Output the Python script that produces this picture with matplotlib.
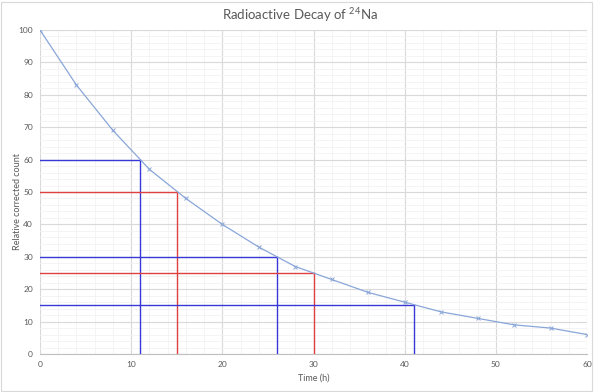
import numpy as np
import matplotlib.pyplot as plt
from matplotlib.ticker import MultipleLocator
from matplotlib.patches import Rectangle

# measured decay data
time_h = [0, 4, 8, 12, 16, 20, 24, 28, 32, 36, 40, 44, 48, 52, 56, 60]
count = [100, 83, 69, 57, 48, 40, 33, 27, 23, 19, 16, 13, 11, 9, 8, 6]

# half-life construction lines: (x where curve hits, y level, colour)
guide_x = [11, 15, 26, 30, 41]
guide_y = [60, 50, 30, 25, 15]
guide_col = ['#3838d8', '#e04040', '#3838d8', '#e04040', '#3838d8']

plt.rcParams['font.family'] = ['Lato', 'DejaVu Sans']
plt.rcParams['mathtext.fontset'] = 'custom'
plt.rcParams['mathtext.rm'] = 'Lato'

fig = plt.figure(figsize=(6, 3.92), dpi=100)
ax = fig.add_axes([40/600, 1-354/392, 547/600, 324/392])

for gx, gy, c in zip(guide_x, guide_y, guide_col):
    ax.plot([0, gx], [gy, gy], color=c, lw=1.0, zorder=3)
    ax.plot([gx, gx], [0, gy], color=c, lw=1.0, zorder=3)

ax.plot(time_h, count, color='#8aa6d8', lw=0.9, marker='x', ms=3.5,
        mew=0.7, zorder=4)

ax.set_xlim(0, 60)
ax.set_ylim(0, 100)
ax.xaxis.set_major_locator(MultipleLocator(10))
ax.yaxis.set_major_locator(MultipleLocator(10))
ax.xaxis.set_minor_locator(MultipleLocator(2))
ax.yaxis.set_minor_locator(MultipleLocator(2))
ax.grid(which='major', color='#d9d9d9', lw=0.8)
ax.grid(which='minor', color='#f2f2f2', lw=0.6)
ax.set_axisbelow(True)
for s in ['top', 'right', 'left']:
    ax.spines[s].set_visible(False)
ax.spines['bottom'].set_color('#bfbfbf')
ax.tick_params(which='both', length=0, labelsize=6, colors='#595959', pad=5)

ax.set_xlabel('Time (h)', fontsize=6.5, color='#595959', labelpad=4)
fig.text(18/600, 190/392, 'Relative corrected count', rotation=90, ha='center',
         va='center', fontsize=6.5, color='#595959')
fig.text(0.5, 1-15/392, r'Radioactive Decay of $\mathregular{^{24}}$Na', ha='center',
         va='center', fontsize=9.5, color='#595959')

fig.patches.append(Rectangle((1/600, 1/392), 591/600, 389/392, transform=fig.transFigure,
                             fill=False, ec='#d9d9d9', lw=0.8))

fig.savefig('out.png', dpi=100)
